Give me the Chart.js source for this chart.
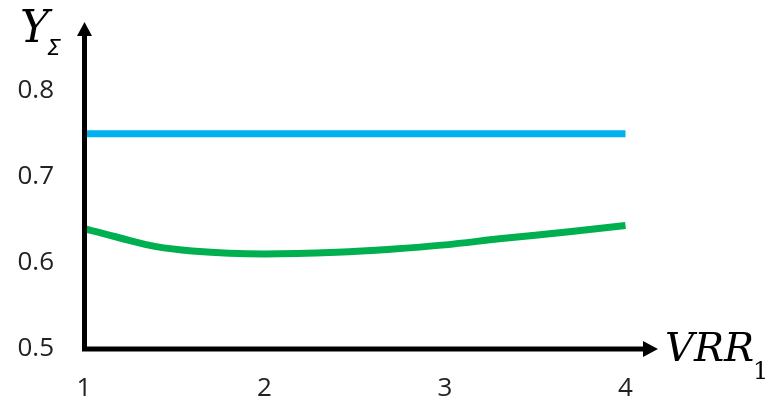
<!DOCTYPE html>
<html>
<head>
<meta charset="utf-8">
<script src="https://cdn.jsdelivr.net/npm/chart.js@4"></script>
<style>
  html, body { margin: 0; padding: 0; background: #ffffff; }
  #wrap { width: 774px; height: 405px; }
</style>
</head>
<body>
<div id="wrap"><canvas id="c" width="774" height="405"></canvas></div>
<script>
// VRR_1 sample points and the two Y_Σ series
const vrrPoints   = [1, 1.2, 1.4, 1.6, 2, 2.4, 2.7, 3, 3.3, 3.7, 4];
const yGreen      = [0.640, 0.629, 0.619, 0.614, 0.6105, 0.6125, 0.616, 0.621, 0.628, 0.6365, 0.6435];
const vrrBlue     = [1, 4];
const yBlue       = [0.75, 0.75];
const xTickValues = [1, 2, 3, 4];
const yTickValues = [0.5, 0.6, 0.7, 0.8];

const toXY = (xs, ys) => xs.map((x, i) => ({ x: x, y: ys[i] }));

// Draws the arrowed axes and the italic axis titles
const axesPlugin = {
  id: 'arrowAxes',
  afterDatasetsDraw(chart) {
    const ctx = chart.ctx;
    const xs = chart.scales.x, ys = chart.scales.y;
    const x0 = xs.getPixelForValue(xs.min) + 0.5;
    const y0 = ys.getPixelForValue(ys.min);
    const xEnd = xs.getPixelForValue(xs.max);
    const yEnd = ys.getPixelForValue(ys.max);
    ctx.save();
    ctx.strokeStyle = '#000';
    ctx.fillStyle = '#000';
    ctx.lineWidth = 5;
    ctx.lineJoin = 'miter';
    ctx.lineCap = 'butt';
    ctx.beginPath();
    ctx.moveTo(x0, yEnd + 12);
    ctx.lineTo(x0, y0);
    ctx.lineTo(xEnd - 12, y0);
    ctx.stroke();
    // arrow heads
    ctx.beginPath();
    ctx.moveTo(x0, yEnd);
    ctx.lineTo(x0 - 7.5, yEnd + 14);
    ctx.lineTo(x0 + 7.5, yEnd + 14);
    ctx.closePath();
    ctx.fill();
    ctx.beginPath();
    ctx.moveTo(xEnd, y0);
    ctx.lineTo(xEnd - 15, y0 - 8);
    ctx.lineTo(xEnd - 15, y0 + 8);
    ctx.closePath();
    ctx.fill();

    // axis titles
    ctx.fillStyle = '#000';
    ctx.textBaseline = 'alphabetic';
    ctx.textAlign = 'left';
    ctx.font = 'italic 44px "DejaVu Serif"';
    ctx.fillText('Y', 20, 42);
    ctx.font = 'italic 22px "DejaVu Sans"';
    ctx.fillText('Σ', 47, 55);
    ctx.font = 'italic 40px "DejaVu Serif"';
    ctx.fillText('VRR', 665, 361);
    const w = ctx.measureText('VRR').width;
    ctx.font = '24px "DejaVu Serif"';
    ctx.fillText('1', 665 + w - 1, 379);
    ctx.restore();
  }
};

const tickFont = { family: '"Open Sans"', size: 26 };

new Chart(document.getElementById('c'), {
  type: 'line',
  data: {
    datasets: [
      {
        data: toXY(vrrBlue, yBlue),
        borderColor: '#00B0F0',
        borderWidth: 7,
        pointRadius: 0,
        borderCapStyle: 'butt'
      },
      {
        data: toXY(vrrPoints, yGreen),
        borderColor: '#00B050',
        borderWidth: 7,
        pointRadius: 0,
        cubicInterpolationMode: 'monotone',
        borderCapStyle: 'butt'
      }
    ]
  },
  options: {
    responsive: false,
    animation: false,
    events: [],
    layout: { padding: { top: 22, right: 116, bottom: 0, left: 0 } },
    plugins: { legend: { display: false }, tooltip: { enabled: false } },
    scales: {
      x: {
        type: 'linear',
        min: 1,
        max: 4.18,
        grid: { display: false, drawTicks: false },
        border: { display: false },
        afterFit(s) { s.height = 56; s.paddingLeft = 0; s.paddingRight = 0; },
        afterBuildTicks(s) { s.ticks = xTickValues.map(v => ({ value: v })); },
        ticks: {
          font: tickFont,
          color: '#222',
          padding: 24,
          maxRotation: 0,
          autoSkip: false,
          callback: v => String(v)
        }
      },
      y: {
        type: 'linear',
        min: 0.5,
        max: 0.88,
        grid: { display: false, drawTicks: false },
        border: { display: false },
        afterFit(s) { s.width = 84; s.paddingTop = 0; s.paddingBottom = 0; },
        afterBuildTicks(s) { s.ticks = yTickValues.map(v => ({ value: v })); },
        ticks: {
          font: tickFont,
          color: '#222',
          padding: 30,
          autoSkip: false,
          callback: v => Number(v).toFixed(1)
        }
      }
    }
  },
  plugins: [axesPlugin]
});
</script>
</body>
</html>
